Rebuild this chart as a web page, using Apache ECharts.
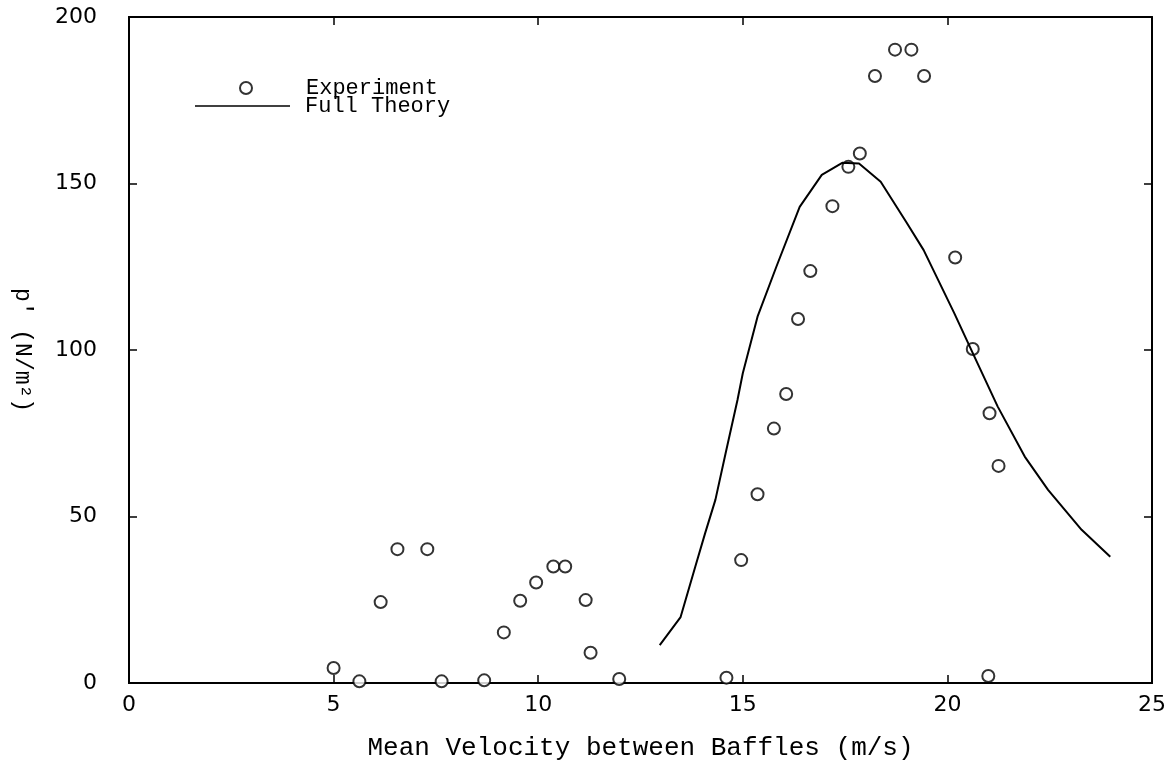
<!DOCTYPE html>
<html>
<head>
<meta charset="utf-8">
<script src="https://cdn.jsdelivr.net/npm/echarts@6/dist/echarts.min.js"></script>
<style>
html,body{margin:0;padding:0;background:#fff;}
#chart{width:1174px;height:773px;}
</style>
</head>
<body>
<div id="chart"></div>
<script>
// Experiment: [velocity (m/s), p' (N/m^2)]
var experimentX = [5.0, 5.63, 6.15, 6.56, 7.29, 7.64, 8.68, 9.16, 9.56, 9.95, 10.37, 10.66, 11.16, 11.28, 11.98,
  14.6, 14.96, 15.36, 15.76, 16.06, 16.35, 16.65, 17.19, 17.58, 17.86, 18.23, 18.72, 19.12, 19.43, 20.19, 20.62, 21.03, 21.25, 21.0];
var experimentY = [4.5, 0.5, 24.3, 40.2, 40.2, 0.5, 0.8, 15.2, 24.7, 30.2, 35, 35, 24.9, 9.1, 1.2,
  1.6, 36.9, 56.7, 76.4, 86.8, 109.3, 123.7, 143.2, 155.0, 159, 182.3, 190.2, 190.2, 182.3, 127.8, 100.3, 81, 65.2, 2.1];
// Full theory curve
var theoryX = [12.97, 13.48, 13.84, 14.08, 14.33, 14.58, 14.87, 15.0, 15.36, 15.82, 16.39, 16.93, 17.43, 17.84, 18.37, 18.99, 19.42, 20.17, 20.66, 21.23, 21.89, 22.46, 23.28, 23.98];
var theoryY = [11.4, 19.8, 35, 45, 55, 69, 85, 93, 110, 125, 143, 152.6, 156.2, 156, 150.5, 138.5, 130, 111, 98, 83, 68, 58, 46, 37.9];
var xTicks = [0, 5, 10, 15, 20, 25];
var yTicks = [0, 50, 100, 150, 200];

var expData = experimentX.map(function(x, i){ return [x, experimentY[i]]; });
var thData = theoryX.map(function(x, i){ return [x, theoryY[i]]; });

var tickFont = {fontFamily: 'DejaVu Sans', fontSize: 22, color: '#000'};
var monoFont = 'Liberation Mono';
var xMin = xTicks[0], xMax = xTicks[xTicks.length - 1];
var yMin = yTicks[0], yMax = yTicks[yTicks.length - 1];

function axLine(){ return {show: true, onZero: false, lineStyle: {color: '#000', width: 2}}; }
function axTick(){ return {show: true, inside: true, length: 8, lineStyle: {color: '#000', width: 1.5}}; }
function frameX(pos){
  return {type: 'value', position: pos, min: xMin, max: xMax, interval: 5,
    axisLine: axLine(), axisTick: axTick(), splitLine: {show: false}, axisLabel: {show: false}};
}
function frameY(pos){
  return {type: 'value', position: pos, min: yMin, max: yMax, interval: 50,
    axisLine: axLine(), axisTick: axTick(), splitLine: {show: false}, axisLabel: {show: false}};
}

var chart = echarts.init(document.getElementById('chart'), null, {renderer: 'canvas'});
chart.setOption({
  backgroundColor: '#fff',
  animation: false,
  grid: {left: 129, right: 22, top: 17, bottom: 90},
  legend: [{
    orient: 'vertical', left: 239, top: 77, padding: 0,
    itemWidth: 12, itemHeight: 12,
    textStyle: {fontFamily: monoFont, fontSize: 22, color: '#000', padding: [0, 0, 0, 49]},
    data: [{name: 'Experiment', icon: 'emptyCircle', itemStyle: {borderColor: '#000', borderWidth: 2}}]
  }, {
    orient: 'vertical', left: 195, top: 95, padding: 0,
    itemWidth: 95, itemHeight: 12,
    textStyle: {fontFamily: monoFont, fontSize: 22, color: '#000', padding: [0, 0, 0, 10]},
    data: [{name: 'Full Theory', icon: 'path://M0,0 L100,0 L100,1.5 L0,1.5 Z'}]
  }],
  xAxis: [{
    type: 'value', min: xMin, max: xMax, interval: 5,
    name: 'Mean Velocity between Baffles (m/s)', nameLocation: 'middle', nameGap: 52,
    nameTextStyle: {fontFamily: monoFont, fontSize: 26, color: '#000'},
    axisLine: axLine(), axisTick: {show: false}, splitLine: {show: false},
    axisLabel: Object.assign({margin: 11}, tickFont)
  }, frameX('top'), frameX('bottom')],
  yAxis: [{
    type: 'value', min: yMin, max: yMax, interval: 50,
    name: "p' (N/m²)", nameLocation: 'middle', nameGap: 95, nameRotate: -90,
    nameTextStyle: {fontFamily: monoFont, fontSize: 23, color: '#000'},
    axisLine: axLine(), axisTick: {show: false}, splitLine: {show: false},
    axisLabel: Object.assign({margin: 32}, tickFont)
  }, frameY('right'), frameY('left')],
  series: [{
    name: 'Experiment', type: 'scatter', data: expData,
    symbol: 'emptyCircle', symbolSize: 12,
    itemStyle: {color: '#000', borderColor: '#000', borderWidth: 2}
  }, {
    name: 'Full Theory', type: 'line', data: thData,
    symbol: 'none', showSymbol: false, smooth: false,
    lineStyle: {color: '#000', width: 2},
    itemStyle: {color: '#000'}
  }]
});
</script>
</body>
</html>
